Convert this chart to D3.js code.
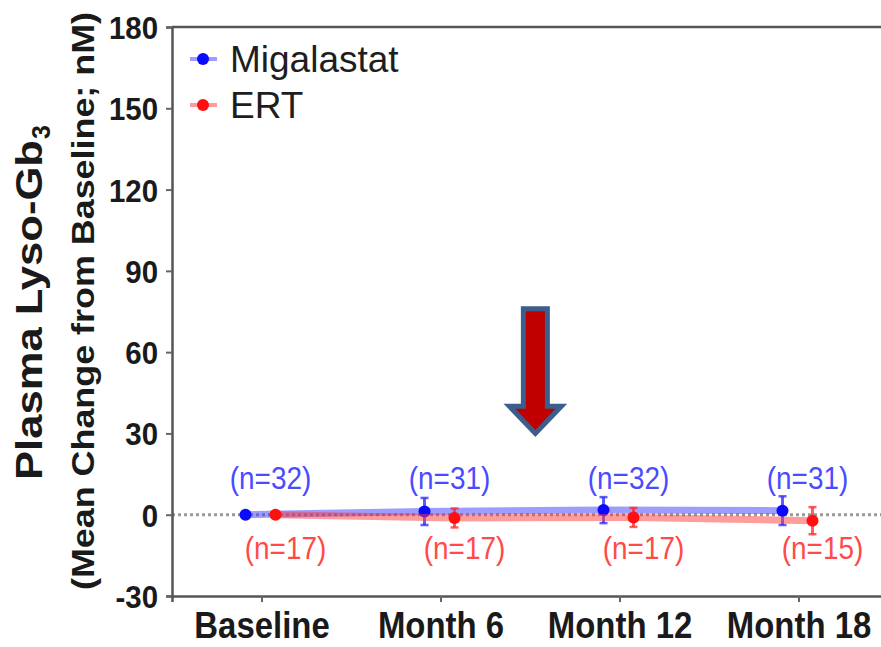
<!DOCTYPE html>
<html>
<head>
<meta charset="utf-8">
<script src="https://cdn.jsdelivr.net/npm/d3@7"></script>
<style>
  html, body { margin: 0; padding: 0; background: #fff; }
  svg { display: block; font-family: "Liberation Sans", Arial, sans-serif; }
</style>
</head>
<body>
<svg id="chart" width="881" height="647"></svg>
<script>
// Visits and plasma lyso-Gb3 change from baseline (nM)
const visits = ["Baseline", "Month 6", "Month 12", "Month 18"];
const yTicks = [-30, 0, 30, 60, 90, 120, 150, 180];

const migalastatMean = [0, 1.2, 1.7, 1.5];
const migalastatErr  = [0, 5.0, 4.8, 5.3];
const migalastatN    = [32, 31, 32, 31];

const ertMean = [0, -1.2, -1.0, -2.2];
const ertErr  = [0, 3.5, 3.5, 5.0];
const ertN    = [17, 17, 17, 15];

const seriesNames = ["Migalastat", "ERT"];

const svg = d3.select("#chart");
const W = 881, H = 647;
const plot = { left: 172, right: 888, top: 27, bottom: 596 };

const x = d3.scalePoint().domain(visits).range([plot.left, plot.right]).padding(0.5);
const y = d3.scaleLinear().domain([-30, 180]).range([plot.bottom, plot.top]);

const BLUE = "#0a0aff", RED = "#ff1010";
const BLUE_LBL = "#4a4aff", RED_LBL = "#ff4a4a";

// squeeze text horizontally to a fraction of its natural width
function squeeze(sel, f) {
  sel.each(function () {
    const w = this.getComputedTextLength();
    d3.select(this).attr("textLength", w * f).attr("lengthAdjust", "spacingAndGlyphs");
  });
}

// frame: top border
svg.append("line")
  .attr("x1", plot.left).attr("x2", W).attr("y1", plot.top).attr("y2", plot.top)
  .attr("stroke", "#555").attr("stroke-width", 2.5);

// zero reference line
svg.append("line")
  .attr("x1", plot.left).attr("x2", W).attr("y1", y(0)).attr("y2", y(0))
  .attr("stroke", "#999").attr("stroke-width", 3).attr("stroke-dasharray", "3,3");

// y axis
const yAxis = svg.append("g")
  .attr("transform", `translate(${plot.left},0)`)
  .call(d3.axisLeft(y).tickValues(yTicks).tickSize(6).tickPadding(8).tickFormat(d => String(d)));
yAxis.select(".domain").attr("stroke", "#555").attr("stroke-width", 2.5);
yAxis.selectAll(".tick line").attr("stroke", "#666").attr("stroke-width", 2);
yAxis.selectAll(".tick text")
  .attr("font-size", 32).attr("font-weight", "bold").attr("fill", "#1a1a1a")
  .attr("font-family", "Liberation Sans, Arial, sans-serif")
  .attr("dy", "0.36em")
  .call(squeeze, 0.92);

// x axis
const xAxis = svg.append("g")
  .attr("transform", `translate(0,${plot.bottom})`)
  .call(d3.axisBottom(x).tickSize(6).tickPadding(10));
xAxis.select(".domain").attr("stroke", "#555").attr("stroke-width", 2.5);
xAxis.selectAll(".tick line").attr("stroke", "#666").attr("stroke-width", 2);
xAxis.selectAll(".tick text")
  .attr("font-size", 37).attr("font-weight", "bold").attr("fill", "#1a1a1a")
  .attr("font-family", "Liberation Sans, Arial, sans-serif")
  .attr("dy", "0.71em")
  .call(squeeze, 0.89);

// y axis titles
const t1 = svg.append("g").attr("transform", "translate(42,302) rotate(-90)");
t1.append("text")
  .attr("x", -178).attr("y", 0)
  .attr("font-size", 36).attr("font-weight", "bold").attr("fill", "#1a1a1a")
  .attr("textLength", 340).attr("lengthAdjust", "spacingAndGlyphs")
  .text("Plasma Lyso-Gb");
t1.append("text")
  .attr("x", 163).attr("y", 8)
  .attr("font-size", 25).attr("font-weight", "bold").attr("fill", "#1a1a1a")
  .text("3");

svg.append("g").attr("transform", "translate(94,301) rotate(-90)")
  .append("text")
  .attr("text-anchor", "middle")
  .attr("font-size", 32).attr("font-weight", "bold").attr("fill", "#1a1a1a")
  .attr("textLength", 578).attr("lengthAdjust", "spacingAndGlyphs")
  .text("(Mean Change from Baseline; nM)");

// series
const series = [
  { name: seriesNames[0], mean: migalastatMean, err: migalastatErr, n: migalastatN,
    color: BLUE, band: "rgba(60,60,255,0.5)", bar: "rgba(40,40,255,0.75)", lbl: BLUE_LBL,
    dx: -16, lblDx: 9, above: true },
  { name: seriesNames[1], mean: ertMean, err: ertErr, n: ertN,
    color: RED, band: "rgba(255,60,60,0.5)", bar: "rgba(255,40,40,0.75)", lbl: RED_LBL,
    dx: 14, lblDx: 24, above: false }
];

const line = d3.line().x(d => d.px).y(d => y(d.v));

series.forEach(s => {
  const pts = visits.map((v, i) => ({ px: x(v) + s.dx, v: s.mean[i], e: s.err[i], n: s.n[i], visit: v }));
  const g = svg.append("g");

  g.append("path").datum(pts)
    .attr("d", line)
    .attr("fill", "none").attr("stroke", s.band).attr("stroke-width", 7);

  // error bars
  const eb = g.selectAll(".eb").data(pts.filter(p => p.e > 0)).join("g");
  eb.append("line")
    .attr("x1", d => d.px).attr("x2", d => d.px)
    .attr("y1", d => y(d.v + d.e)).attr("y2", d => y(d.v - d.e))
    .attr("stroke", s.bar).attr("stroke-width", 3);
  [1, -1].forEach(sign => {
    eb.append("line")
      .attr("x1", d => d.px - 4).attr("x2", d => d.px + 4)
      .attr("y1", d => y(d.v + sign * d.e)).attr("y2", d => y(d.v + sign * d.e))
      .attr("stroke", s.bar).attr("stroke-width", 2.5);
  });

  g.selectAll("circle").data(pts).join("circle")
    .attr("cx", d => d.px).attr("cy", d => y(d.v)).attr("r", 6)
    .attr("fill", s.color);

  // sample-size labels
  g.selectAll(".nlbl").data(pts).join("text")
    .attr("x", d => x(d.visit) + s.lblDx)
    .attr("y", d => s.above ? y(0) - 26 : y(0) + 44)
    .attr("text-anchor", "middle")
    .attr("font-size", 31).attr("fill", s.lbl)
    .text(d => `(n=${d.n})`)
    .call(squeeze, 0.9);
});

// legend
const legend = svg.append("g");
series.forEach((s, i) => {
  const ly = 59 + i * 46;
  legend.append("line")
    .attr("x1", 190).attr("x2", 217).attr("y1", ly).attr("y2", ly)
    .attr("stroke", s.band).attr("stroke-width", 4);
  legend.append("circle").attr("cx", 203).attr("cy", ly).attr("r", 6).attr("fill", s.color);
  legend.append("text")
    .attr("x", 230).attr("y", ly + 13)
    .attr("font-size", 37).attr("fill", "#1e1e1e")
    .text(s.name);
});

// downward arrow between Month 6 and Month 12
const ax = x(visits[1]) + 0.53 * (x(visits[2]) - x(visits[1]));
const yTop = y(76), yNeck = y(40), yTip = y(30);
const shaftHalf = 12, headHalf = 26;
const arrowPts = [
  [ax - shaftHalf, yTop], [ax + shaftHalf, yTop], [ax + shaftHalf, yNeck],
  [ax + headHalf, yNeck], [ax, yTip], [ax - headHalf, yNeck], [ax - shaftHalf, yNeck]
];
svg.append("path")
  .attr("d", d3.line()(arrowPts) + "Z")
  .attr("fill", "#c00000").attr("stroke", "#3b5e8c").attr("stroke-width", 5)
  .attr("stroke-linejoin", "miter");
</script>
</body>
</html>
